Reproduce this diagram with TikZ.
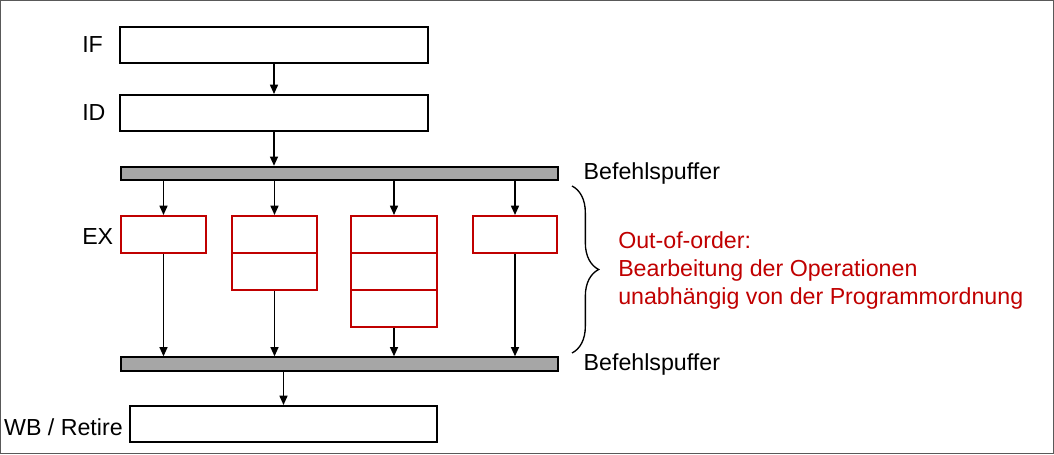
\documentclass[tikz,border=0pt]{standalone}
\usepackage{fontspec}
\setmainfont{Liberation Sans}
\usetikzlibrary{arrows.meta,calc,positioning,decorations.pathreplacing}
\definecolor{accent}{HTML}{C00000}
\definecolor{bufgray}{HTML}{A6A6A6}
\definecolor{frame}{HTML}{595959}

\begin{document}
\begin{tikzpicture}[
  x=0.75pt, y=-0.75pt,
  font=\fontsize{17.4}{21}\selectfont,
  stage/.style={draw, line width=1.5pt, minimum width=231pt, minimum height=27pt, inner sep=0pt},
  unit/.style={draw=accent, line width=1.5pt, minimum width=64pt, minimum height=27.75pt, inner sep=0pt},
  buffer/.style={draw, line width=1.5pt, fill=bufgray, minimum width=327.75pt, minimum height=10pt, inner sep=0pt},
  flow/.style={-{Triangle[length=7pt,width=6pt]}, line width=1.2pt},
  tag/.style={anchor=west, inner sep=0pt}
]
  \useasboundingbox (0,0) rectangle (1054,454);
  \draw[frame, line width=0.8pt] (0.5,0.5) rectangle (1053.5,453.5);

  % front end
  \node[stage] (fetch) at (274,45) {};
  \node[stage] (decode) at (274,113) {};
  \node[tag] (iflbl) at (82,45) {IF};
  \node[tag] (idlbl) at (82,113) {ID};
  \draw[flow] (fetch.south) -- (decode.north);

  \node[buffer] (buf1) at (339.5,173.5) {};
  \node[right=15pt of buf1] (buf1lbl) {Befehlspuffer};
  \draw[flow] (decode.south) -- (decode.south |- buf1.north);

  % execution units, stacked cells share their edges
  \node[unit] (ex1) at (163.5,234.5) {};
  \node[unit] (ex2a) at (274.5,234.5) {};
  \node[unit] (ex2b) at (274.5,271.5) {};
  \node[unit] (ex3a) at (394,234.5) {};
  \node[unit] (ex3b) at (394,271.5) {};
  \node[unit] (ex3c) at (394,308.5) {};
  \node[unit, minimum width=63pt] (ex4) at (515,234.5) {};
  \node[tag] (exlbl) at (82,237) {EX};

  \node[buffer] (buf2) at (339.5,364) {};
  \node[right=15pt of buf2] (buf2lbl) {Befehlspuffer};

  \foreach \u in {ex1,ex2a,ex3a,ex4}
    \draw[flow] (\u |- buf1.south) -- (\u.north);
  \foreach \u in {ex1,ex2b,ex3c,ex4}
    \draw[flow] (\u.south) -- (\u.south |- buf2.north);

  \draw[decorate, decoration={brace, amplitude=20pt}, line width=1pt]
    (572,186) -- (572,353);
  \node[tag, text=accent, align=left] (ooo) at (618,270)
    {Out-of-order:\\Bearbeitung der Operationen\\unabhängig von der Programmordnung};

  % write back
  \node[stage, minimum width=230pt] (retire) at (283.5,424) {};
  \node[anchor=east, inner sep=0pt] (wblbl) at (123,427) {WB / Retire};
  \draw[flow] (retire.north |- buf2.south) -- (retire.north);
\end{tikzpicture}
\end{document}
